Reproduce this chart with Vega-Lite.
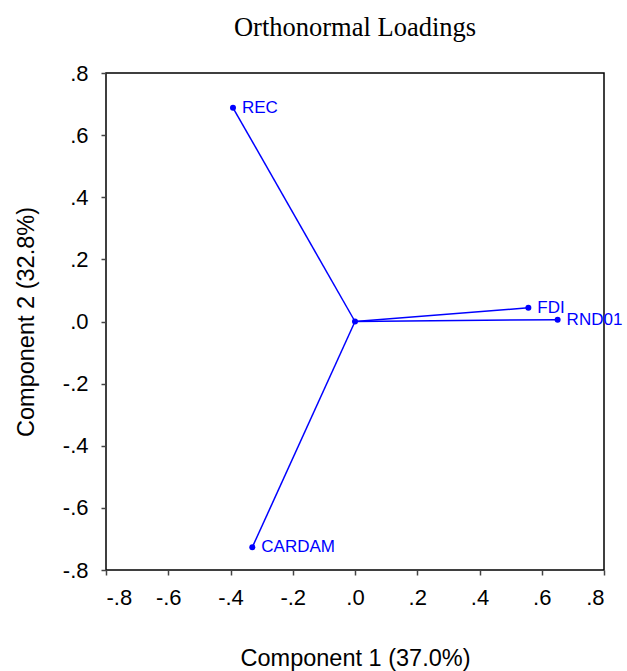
{
  "$schema": "https://vega.github.io/schema/vega-lite/v6.json",
  "autosize": "none",
  "width": 498,
  "height": 497,
  "padding": {"left": 106, "top": 73, "right": 23, "bottom": 101},
  "background": "white",
  "title": {
    "text": "Orthonormal Loadings",
    "font": "Liberation Serif",
    "fontSize": 26.5,
    "fontWeight": "normal",
    "color": "black",
    "anchor": "middle",
    "offset": 21
  },
  "config": {
    "view": {"stroke": "black", "strokeWidth": 1.5},
    "axis": {
      "grid": false,
      "domain": false,
      "labelFont": "Liberation Sans",
      "labelFontSize": 22,
      "labelColor": "black",
      "titleFont": "Liberation Sans",
      "titleFontSize": 23.5,
      "titleFontWeight": "normal",
      "titleColor": "black",
      "tickColor": "#444",
      "tickSize": 5,
      "tickWidth": 1.5
    }
  },
  "datasets": {
    "loadings": [
      {"var": "REC", "c1": -0.392, "c2": 0.688},
      {"var": "FDI", "c1": 0.557, "c2": 0.044},
      {"var": "RND01", "c1": 0.651, "c2": 0.006},
      {"var": "CARDAM", "c1": -0.330, "c2": -0.727}
    ],
    "origin": [
      {"var": "origin", "c1": 0, "c2": 0}
    ]
  },
  "layer": [
    {
      "data": {"name": "loadings"},
      "mark": {"type": "rule", "color": "#0000FF", "strokeWidth": 1.5},
      "encoding": {
        "x": {
          "field": "c1", "type": "quantitative",
          "scale": {"domain": [-0.8, 0.8], "nice": false, "zero": false},
          "axis": {
            "title": "Component 1 (37.0%)",
            "values": [-0.8, -0.6, -0.4, -0.2, 0, 0.2, 0.4, 0.6, 0.8],
            "labelExpr": "replace(replace(format(datum.value, '.1f'), '0.', '.'), '\u2212', '-')",
            "labelPadding": 12,
            "titlePadding": 38
          }
        },
        "y": {
          "field": "c2", "type": "quantitative",
          "scale": {"domain": [-0.8, 0.8], "nice": false, "zero": false},
          "axis": {
            "title": "Component 2 (32.8%)",
            "values": [-0.8, -0.6, -0.4, -0.2, 0, 0.2, 0.4, 0.6, 0.8],
            "labelExpr": "replace(replace(format(datum.value, '.1f'), '0.', '.'), '\u2212', '-')",
            "labelPadding": 13,
            "titlePadding": 24
          }
        },
        "x2": {"datum": 0},
        "y2": {"datum": 0}
      }
    },
    {
      "data": {"name": "loadings"},
      "mark": {"type": "point", "filled": true, "color": "#0000FF", "size": 36, "opacity": 1},
      "encoding": {
        "x": {"field": "c1", "type": "quantitative"},
        "y": {"field": "c2", "type": "quantitative"}
      }
    },
    {
      "data": {"name": "origin"},
      "mark": {"type": "point", "filled": true, "color": "#0000FF", "size": 36, "opacity": 1},
      "encoding": {
        "x": {"field": "c1", "type": "quantitative"},
        "y": {"field": "c2", "type": "quantitative"}
      }
    },
    {
      "data": {"name": "loadings"},
      "mark": {"type": "text", "color": "#0000FF", "font": "Liberation Sans", "fontSize": 17, "align": "left", "baseline": "middle", "dx": 9},
      "encoding": {
        "x": {"field": "c1", "type": "quantitative"},
        "y": {"field": "c2", "type": "quantitative"},
        "text": {"field": "var"}
      }
    }
  ]
}
